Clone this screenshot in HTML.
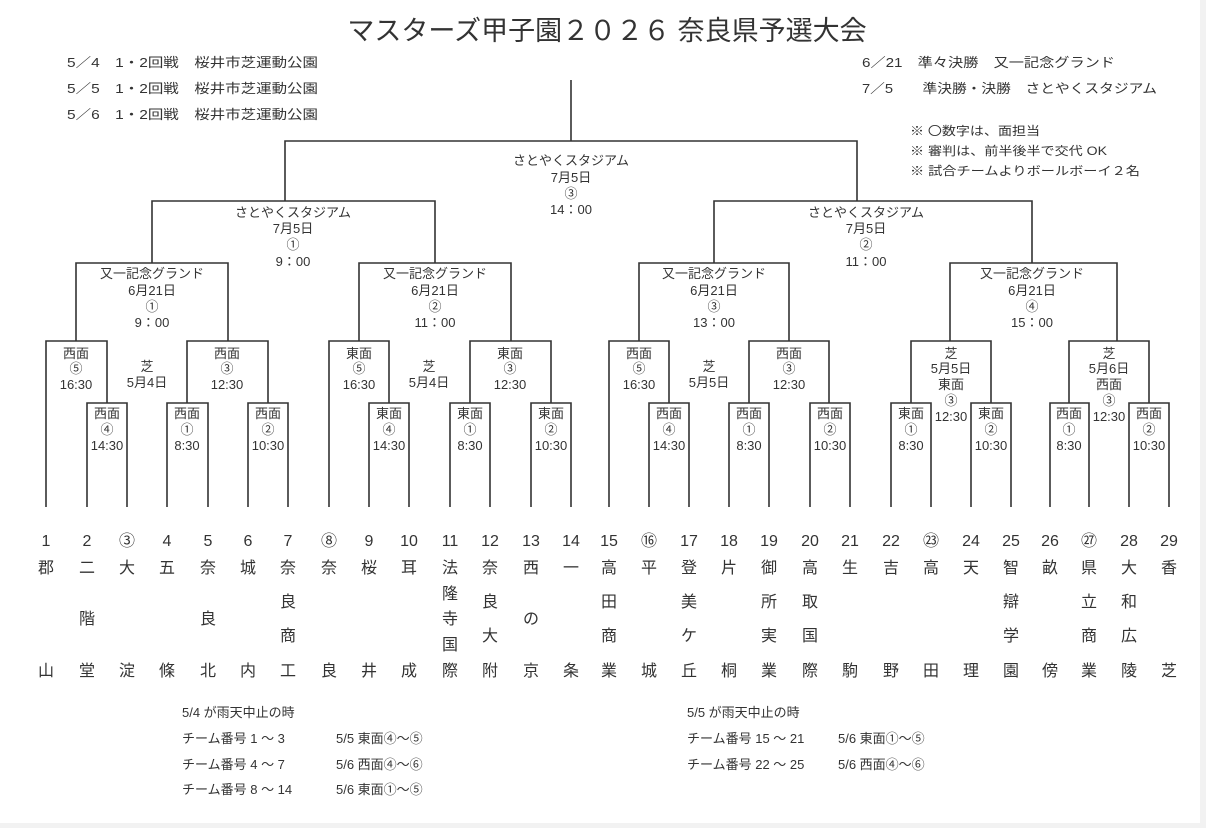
<!DOCTYPE html>
<html><head><meta charset="utf-8"><style>
html,body{margin:0;padding:0;background:#f2f2f2;}
#w{position:absolute;left:0;top:0;width:1200px;height:823px;background:#fff;}
svg{position:absolute;left:0;top:0;}
text{font-family:"Liberation Sans","Noto Sans CJK JP",sans-serif;fill:#333;}
.l{font-size:13px;text-anchor:middle;}
.n{font-size:16px;text-anchor:middle;}
.h{font-size:13px;}
</style></head><body><div id="w"></div>
<svg width="1206" height="828" xmlns="http://www.w3.org/2000/svg">
<g fill="none" stroke="#333" stroke-width="1.6">
<path d="M571,80V141M285,201V141H857V201"/>
<path d="M152,263V201H435V263M714,263V201H1032V263"/>
<path d="M76,341V263H228V341M359,341V263H511V341M639,341V263H789V341M950,341V263H1117V341"/>
<path d="M46,507V341H107V403M87,507V403H127V507M187,403V341H268V403M167,507V403H208V507M248,507V403H288V507"/>
<path d="M329,507V341H389V403M369,507V403H409V507M470,403V341H551V403M450,507V403H490V507M531,507V403H571V507"/>
<path d="M609,507V341H669V403M649,507V403H689V507M749,403V341H829V403M729,507V403H769V507M810,507V403H850V507"/>
<path d="M911,403V341H991V403M891,507V403H931V507M971,507V403H1011V507M1069,403V341H1149V403M1050,507V403H1089V507M1129,507V403H1169V507"/>
</g>
<text x="607" y="40" style="font-size:27px;text-anchor:middle">マスターズ甲子園２０２６ 奈良県予選大会</text>
<text class="h" x="67" y="67" textLength="251" lengthAdjust="spacingAndGlyphs">5／4　1・2回戦　桜井市芝運動公園</text>
<text class="h" x="67" y="93" textLength="251" lengthAdjust="spacingAndGlyphs">5／5　1・2回戦　桜井市芝運動公園</text>
<text class="h" x="67" y="119" textLength="251" lengthAdjust="spacingAndGlyphs">5／6　1・2回戦　桜井市芝運動公園</text>
<text class="h" x="862" y="67" textLength="253" lengthAdjust="spacingAndGlyphs">6／21　準々決勝　又一記念グランド</text>
<text class="h" x="862" y="93" textLength="295" lengthAdjust="spacingAndGlyphs">7／5　　準決勝・決勝　さとやくスタジアム</text>
<text x="910" y="135" style="font-size:12px" textLength="130" lengthAdjust="spacingAndGlyphs">※ 〇数字は、面担当</text>
<text x="910" y="155" style="font-size:12px" textLength="197" lengthAdjust="spacingAndGlyphs">※ 審判は、前半後半で交代 OK</text>
<text x="910" y="175" style="font-size:12px" textLength="230" lengthAdjust="spacingAndGlyphs">※ 試合チームよりボールボーイ２名</text>
<g class="l">
<text class="l" x="571" y="165">さとやくスタジアム</text><text class="l" x="571" y="182">7月5日</text><text class="l" x="571" y="198">③</text><text class="l" x="571" y="214">14：00</text>
<text class="l" x="293" y="217">さとやくスタジアム</text><text class="l" x="293" y="233">7月5日</text><text class="l" x="293" y="249">①</text><text class="l" x="293" y="266">9：00</text>
<text class="l" x="866" y="217">さとやくスタジアム</text><text class="l" x="866" y="233">7月5日</text><text class="l" x="866" y="249">②</text><text class="l" x="866" y="266">11：00</text>
<text class="l" x="152" y="278">又一記念グランド</text><text class="l" x="152" y="295">6月21日</text><text class="l" x="152" y="311">①</text><text class="l" x="152" y="327">9：00</text>
<text class="l" x="435" y="278">又一記念グランド</text><text class="l" x="435" y="295">6月21日</text><text class="l" x="435" y="311">②</text><text class="l" x="435" y="327">11：00</text>
<text class="l" x="714" y="278">又一記念グランド</text><text class="l" x="714" y="295">6月21日</text><text class="l" x="714" y="311">③</text><text class="l" x="714" y="327">13：00</text>
<text class="l" x="1032" y="278">又一記念グランド</text><text class="l" x="1032" y="295">6月21日</text><text class="l" x="1032" y="311">④</text><text class="l" x="1032" y="327">15：00</text>

<text class="l" x="76" y="358">西面</text><text class="l" x="76" y="373">⑤</text><text class="l" x="76" y="389">16:30</text>
<text class="l" x="227" y="358">西面</text><text class="l" x="227" y="373">③</text><text class="l" x="227" y="389">12:30</text>
<text class="l" x="147" y="371">芝</text><text class="l" x="147" y="387">5月4日</text>
<text class="l" x="107" y="418">西面</text><text class="l" x="107" y="434">④</text><text class="l" x="107" y="450">14:30</text>
<text class="l" x="187" y="418">西面</text><text class="l" x="187" y="434">①</text><text class="l" x="187" y="450">8:30</text>
<text class="l" x="268" y="418">西面</text><text class="l" x="268" y="434">②</text><text class="l" x="268" y="450">10:30</text>

<text class="l" x="359" y="358">東面</text><text class="l" x="359" y="373">⑤</text><text class="l" x="359" y="389">16:30</text>
<text class="l" x="510" y="358">東面</text><text class="l" x="510" y="373">③</text><text class="l" x="510" y="389">12:30</text>
<text class="l" x="429" y="371">芝</text><text class="l" x="429" y="387">5月4日</text>
<text class="l" x="389" y="418">東面</text><text class="l" x="389" y="434">④</text><text class="l" x="389" y="450">14:30</text>
<text class="l" x="470" y="418">東面</text><text class="l" x="470" y="434">①</text><text class="l" x="470" y="450">8:30</text>
<text class="l" x="551" y="418">東面</text><text class="l" x="551" y="434">②</text><text class="l" x="551" y="450">10:30</text>

<text class="l" x="639" y="358">西面</text><text class="l" x="639" y="373">⑤</text><text class="l" x="639" y="389">16:30</text>
<text class="l" x="789" y="358">西面</text><text class="l" x="789" y="373">③</text><text class="l" x="789" y="389">12:30</text>
<text class="l" x="709" y="371">芝</text><text class="l" x="709" y="387">5月5日</text>
<text class="l" x="669" y="418">西面</text><text class="l" x="669" y="434">④</text><text class="l" x="669" y="450">14:30</text>
<text class="l" x="749" y="418">西面</text><text class="l" x="749" y="434">①</text><text class="l" x="749" y="450">8:30</text>
<text class="l" x="830" y="418">西面</text><text class="l" x="830" y="434">②</text><text class="l" x="830" y="450">10:30</text>

<text class="l" x="951" y="358">芝</text><text class="l" x="951" y="373">5月5日</text><text class="l" x="951" y="389">東面</text><text class="l" x="951" y="405">③</text><text class="l" x="951" y="421">12:30</text>
<text class="l" x="911" y="418">東面</text><text class="l" x="911" y="434">①</text><text class="l" x="911" y="450">8:30</text>
<text class="l" x="991" y="418">東面</text><text class="l" x="991" y="434">②</text><text class="l" x="991" y="450">10:30</text>
<text class="l" x="1109" y="358">芝</text><text class="l" x="1109" y="373">5月6日</text><text class="l" x="1109" y="389">西面</text><text class="l" x="1109" y="405">③</text><text class="l" x="1109" y="421">12:30</text>
<text class="l" x="1069" y="418">西面</text><text class="l" x="1069" y="434">①</text><text class="l" x="1069" y="450">8:30</text>
<text class="l" x="1149" y="418">西面</text><text class="l" x="1149" y="434">②</text><text class="l" x="1149" y="450">10:30</text>
</g>
<g class="n">
<text class="n" x="46" y="546">1</text><text class="n" x="87" y="546">2</text><text class="n" x="127" y="546">③</text><text class="n" x="167" y="546">4</text><text class="n" x="208" y="546">5</text><text class="n" x="248" y="546">6</text><text class="n" x="288" y="546">7</text><text class="n" x="329" y="546">⑧</text><text class="n" x="369" y="546">9</text><text class="n" x="409" y="546">10</text><text class="n" x="450" y="546">11</text><text class="n" x="490" y="546">12</text><text class="n" x="531" y="546">13</text><text class="n" x="571" y="546">14</text><text class="n" x="609" y="546">15</text><text class="n" x="649" y="546">⑯</text><text class="n" x="689" y="546">17</text><text class="n" x="729" y="546">18</text><text class="n" x="769" y="546">19</text><text class="n" x="810" y="546">20</text><text class="n" x="850" y="546">21</text><text class="n" x="891" y="546">22</text><text class="n" x="931" y="546">㉓</text><text class="n" x="971" y="546">24</text><text class="n" x="1011" y="546">25</text><text class="n" x="1050" y="546">26</text><text class="n" x="1089" y="546">㉗</text><text class="n" x="1129" y="546">28</text><text class="n" x="1169" y="546">29</text>
</g>
<text class="h" x="182" y="717">5/4 が雨天中止の時</text>
<text class="h" x="182" y="743">チーム番号 1 ～ 3</text><text class="h" x="336" y="743">5/5 東面④～⑤</text>
<text class="h" x="182" y="769">チーム番号 4 ～ 7</text><text class="h" x="336" y="769">5/6 西面④～⑥</text>
<text class="h" x="182" y="794">チーム番号 8 ～ 14</text><text class="h" x="336" y="794">5/6 東面①～⑤</text>
<text class="h" x="687" y="717">5/5 が雨天中止の時</text>
<text class="h" x="687" y="743">チーム番号 15 ～ 21</text><text class="h" x="838" y="743">5/6 東面①～⑤</text>
<text class="h" x="687" y="769">チーム番号 22 ～ 25</text><text class="h" x="838" y="769">5/6 西面④～⑥</text>
<g class="n">
<text class="n" x="46" y="573">郡</text><text class="n" x="46" y="676">山</text>
<text class="n" x="87" y="573">二</text><text class="n" x="87" y="624">階</text><text class="n" x="87" y="676">堂</text>
<text class="n" x="127" y="573">大</text><text class="n" x="127" y="676">淀</text>
<text class="n" x="167" y="573">五</text><text class="n" x="167" y="676">條</text>
<text class="n" x="208" y="573">奈</text><text class="n" x="208" y="624">良</text><text class="n" x="208" y="676">北</text>
<text class="n" x="248" y="573">城</text><text class="n" x="248" y="676">内</text>
<text class="n" x="288" y="573">奈</text><text class="n" x="288" y="607">良</text><text class="n" x="288" y="641">商</text><text class="n" x="288" y="676">工</text>
<text class="n" x="329" y="573">奈</text><text class="n" x="329" y="676">良</text>
<text class="n" x="369" y="573">桜</text><text class="n" x="369" y="676">井</text>
<text class="n" x="409" y="573">耳</text><text class="n" x="409" y="676">成</text>
<text class="n" x="450" y="573">法</text><text class="n" x="450" y="599">隆</text><text class="n" x="450" y="624">寺</text><text class="n" x="450" y="650">国</text><text class="n" x="450" y="676">際</text>
<text class="n" x="490" y="573">奈</text><text class="n" x="490" y="607">良</text><text class="n" x="490" y="641">大</text><text class="n" x="490" y="676">附</text>
<text class="n" x="531" y="573">西</text><text class="n" x="531" y="624">の</text><text class="n" x="531" y="676">京</text>
<text class="n" x="571" y="573">一</text><text class="n" x="571" y="676">条</text>
<text class="n" x="609" y="573">高</text><text class="n" x="609" y="607">田</text><text class="n" x="609" y="641">商</text><text class="n" x="609" y="676">業</text>
<text class="n" x="649" y="573">平</text><text class="n" x="649" y="676">城</text>
<text class="n" x="689" y="573">登</text><text class="n" x="689" y="607">美</text><text class="n" x="689" y="641">ケ</text><text class="n" x="689" y="676">丘</text>
<text class="n" x="729" y="573">片</text><text class="n" x="729" y="676">桐</text>
<text class="n" x="769" y="573">御</text><text class="n" x="769" y="607">所</text><text class="n" x="769" y="641">実</text><text class="n" x="769" y="676">業</text>
<text class="n" x="810" y="573">高</text><text class="n" x="810" y="607">取</text><text class="n" x="810" y="641">国</text><text class="n" x="810" y="676">際</text>
<text class="n" x="850" y="573">生</text><text class="n" x="850" y="676">駒</text>
<text class="n" x="891" y="573">吉</text><text class="n" x="891" y="676">野</text>
<text class="n" x="931" y="573">高</text><text class="n" x="931" y="676">田</text>
<text class="n" x="971" y="573">天</text><text class="n" x="971" y="676">理</text>
<text class="n" x="1011" y="573">智</text><text class="n" x="1011" y="607">辯</text><text class="n" x="1011" y="641">学</text><text class="n" x="1011" y="676">園</text>
<text class="n" x="1050" y="573">畝</text><text class="n" x="1050" y="676">傍</text>
<text class="n" x="1089" y="573">県</text><text class="n" x="1089" y="607">立</text><text class="n" x="1089" y="641">商</text><text class="n" x="1089" y="676">業</text>
<text class="n" x="1129" y="573">大</text><text class="n" x="1129" y="607">和</text><text class="n" x="1129" y="641">広</text><text class="n" x="1129" y="676">陵</text>
<text class="n" x="1169" y="573">香</text><text class="n" x="1169" y="676">芝</text>
</g>
</svg></body></html>
